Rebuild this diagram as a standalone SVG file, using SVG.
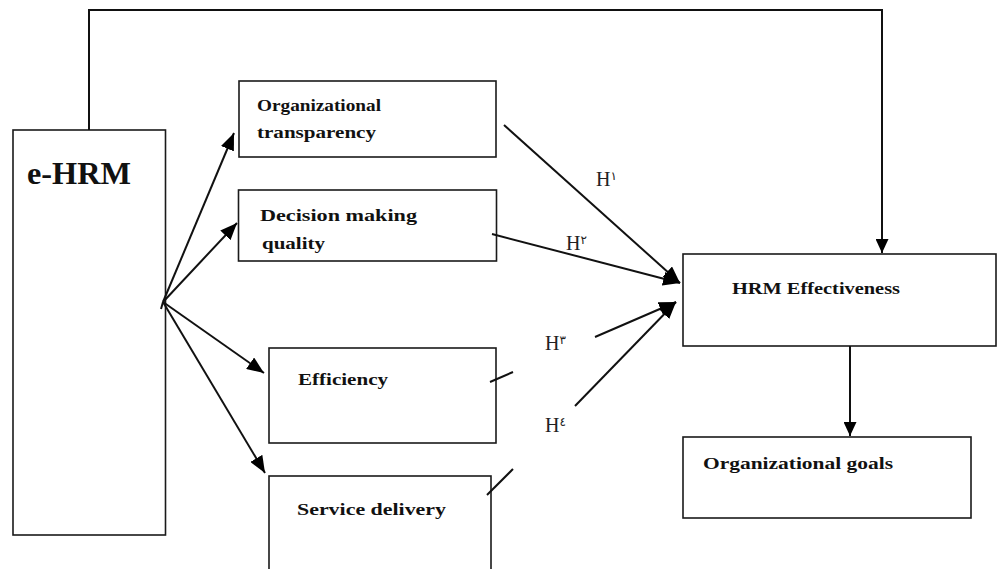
<svg xmlns="http://www.w3.org/2000/svg" width="997" height="569" viewBox="0 0 997 569">
<style>
.box{fill:#fff;stroke:#1a1a1a;stroke-width:1.6}
.lbl{font-family:"Liberation Serif","Times New Roman",serif;font-weight:bold;fill:#111}
.ln{fill:none;stroke:#111;stroke-width:2}
.h{font-family:"Liberation Serif","DejaVu Serif",serif;font-size:20px;fill:#222}
.sup{font-family:"DejaVu Sans","Noto Sans",sans-serif;font-size:12px}
</style>
<defs>
<marker id="ah" markerUnits="userSpaceOnUse" markerWidth="18" markerHeight="14" refX="17" refY="7" orient="auto">
<path d="M0,0 L17,7 L0,14 z" fill="#000"/>
</marker>
<marker id="ahs" markerUnits="userSpaceOnUse" markerWidth="14" markerHeight="13" refX="14" refY="6.5" orient="auto">
<path d="M0,0 L14,6.5 L0,13 z" fill="#000"/>
</marker>
</defs>
<rect width="997" height="569" fill="#fff"/>
<g id="ehrm">
<rect class="box" x="13" y="130" width="152.5" height="405"/>
<text class="lbl" x="27" y="184" font-size="32" textLength="104" lengthAdjust="spacingAndGlyphs">e-HRM</text>
</g>
<g id="transparency">
<rect class="box" x="239" y="81" width="257" height="76"/>
<text class="lbl" x="257" y="111" font-size="16" textLength="124" lengthAdjust="spacingAndGlyphs">Organizational</text>
<text class="lbl" x="257" y="138" font-size="16" textLength="119" lengthAdjust="spacingAndGlyphs">transparency</text>
</g>
<g id="decision">
<rect class="box" x="238.5" y="190" width="258" height="71"/>
<text class="lbl" x="260" y="221" font-size="16" textLength="157" lengthAdjust="spacingAndGlyphs">Decision making</text>
<text class="lbl" x="262" y="249" font-size="16" textLength="63" lengthAdjust="spacingAndGlyphs">quality</text>
</g>
<g id="efficiency">
<rect class="box" x="269" y="348" width="227" height="95"/>
<text class="lbl" x="298" y="385" font-size="16" textLength="90" lengthAdjust="spacingAndGlyphs">Efficiency</text>
</g>
<g id="service">
<rect class="box" x="269" y="476" width="222" height="100"/>
<text class="lbl" x="297" y="515" font-size="16" textLength="149" lengthAdjust="spacingAndGlyphs">Service delivery</text>
</g>
<g id="hrm">
<rect class="box" x="683" y="254" width="313" height="92"/>
<text class="lbl" x="732" y="294" font-size="16" textLength="168" lengthAdjust="spacingAndGlyphs">HRM Effectiveness</text>
</g>
<g id="goals">
<rect class="box" x="683" y="437" width="288" height="81"/>
<text class="lbl" x="703" y="469" font-size="16" textLength="190" lengthAdjust="spacingAndGlyphs">Organizational goals</text>
</g>
<g id="connectors">
<polyline class="ln" points="89,130 89,10 882,10 882,253" marker-end="url(#ahs)"/>
<line class="ln" x1="163" y1="302" x2="234" y2="133" marker-end="url(#ah)"/>
<line class="ln" x1="163" y1="302" x2="237" y2="223" marker-end="url(#ah)"/>
<line class="ln" x1="163" y1="302" x2="264" y2="373" marker-end="url(#ah)"/>
<line class="ln" x1="163" y1="302" x2="265" y2="473" marker-end="url(#ah)"/>
<line class="ln" x1="161" y1="309" x2="163" y2="302"/>
<line class="ln" x1="504" y1="125" x2="680" y2="283" marker-end="url(#ah)"/>
<line class="ln" x1="492" y1="234" x2="680" y2="283" marker-end="url(#ah)"/>
<line class="ln" x1="595" y1="337" x2="676" y2="302" marker-end="url(#ah)"/>
<line class="ln" x1="575" y1="406" x2="676" y2="302" marker-end="url(#ah)"/>
<line class="ln" x1="490" y1="382" x2="513" y2="372"/>
<line class="ln" x1="487" y1="495" x2="513" y2="469"/>
<line class="ln" x1="850" y1="346" x2="850" y2="436" marker-end="url(#ahs)"/>
<text class="h" x="596" y="186">H<tspan class="sup" dy="-6">١</tspan></text>
<text class="h" x="566" y="250">H<tspan class="sup" dy="-6">٢</tspan></text>
<text class="h" x="545" y="350">H<tspan class="sup" dy="-6">٣</tspan></text>
<text class="h" x="545" y="432">H<tspan class="sup" dy="-6">٤</tspan></text>
</g>
</svg>
